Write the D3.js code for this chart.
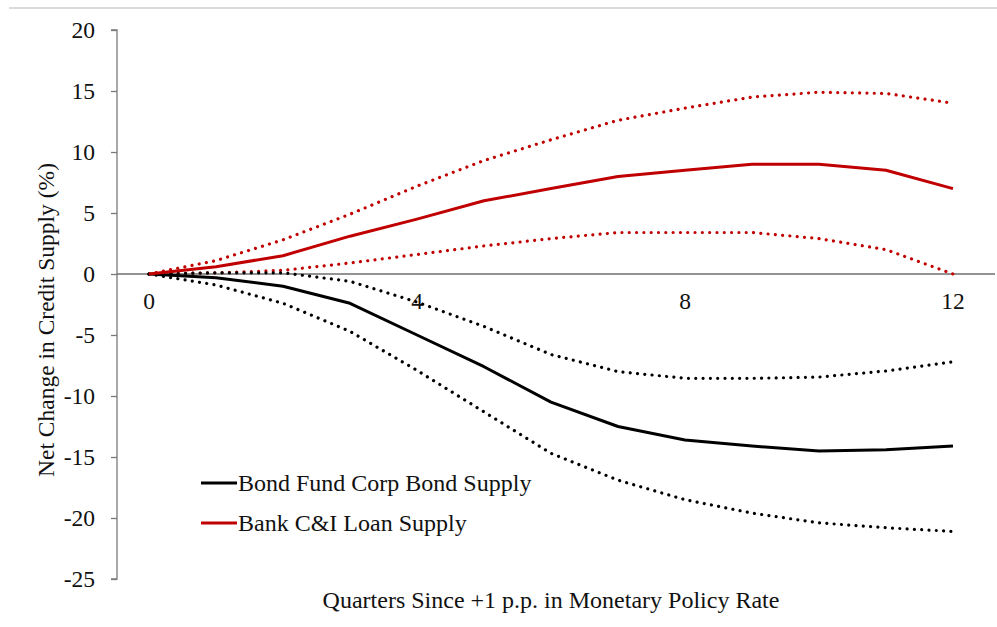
<!DOCTYPE html>
<html><head><meta charset="utf-8">
<script src="https://cdn.jsdelivr.net/npm/d3@7"></script>
<style>body{margin:0;background:#fff}svg{display:block}text{font-family:"Liberation Serif","Times New Roman",serif;fill:#111}</style>
</head><body>
<svg id="c" width="997" height="627"></svg>
<script>
const quarters = [0,1,2,3,4,5,6,7,8,9,10,11,12];
const bankMid   = [0,0.6,1.5,3.1,4.5,6.0,7.0,8.0,8.5,9.0,9.0,8.5,7.0];
const bankUpper = [0,1.1,2.8,4.9,7.2,9.3,11.0,12.6,13.6,14.5,14.9,14.8,14.0];
const bankLower = [0,0.1,0.3,0.9,1.6,2.3,2.9,3.4,3.4,3.4,2.9,2.0,0];
const bondMid   = [0,-0.3,-1.0,-2.4,-5.0,-7.6,-10.5,-12.5,-13.6,-14.1,-14.5,-14.4,-14.1];
const bondUpper = [0,0.1,0.1,-0.6,-2.3,-4.3,-6.6,-8.0,-8.55,-8.55,-8.45,-7.95,-7.2];
const bondLower = [0,-0.9,-2.4,-4.7,-7.9,-11.3,-14.7,-16.9,-18.5,-19.6,-20.4,-20.8,-21.1];
const yTicks = [20,15,10,5,0,-5,-10,-15,-20,-25];
const xTicks = [0,4,8,12];
const legendLabels = ["Bond Fund Corp Bond Supply","Bank C&I Loan Supply"];
const colors = {bond:"#000000", bank:"#C00000"};

const svg = d3.select("#c");
const x = d3.scaleLinear().domain([0,12]).range([149,953]);
const y = d3.scaleLinear().domain([-25,20]).range([579,30]);

// top separator line
svg.append("line").attr("x1",9).attr("x2",997).attr("y1",8).attr("y2",8)
  .attr("stroke","#cfcfcf").attr("stroke-width",1.5);

// y axis
const yAxis = d3.axisLeft(y).tickValues(yTicks).tickSize(6).tickPadding(16).tickFormat(d3.format("d"));
const ga = svg.append("g").attr("transform","translate(117,0)").call(yAxis);
ga.select(".domain").attr("stroke","#7a7a7a").attr("stroke-width",1.3).attr("d","M-6,"+y(20)+"H0V"+y(-25)+"H-6");
ga.selectAll(".tick line").attr("stroke","#7a7a7a").attr("stroke-width",1.3);
ga.selectAll(".tick text").style("font-family","'Liberation Serif',serif").style("font-size","23.5px").attr("fill","#111")
  .text(d => d<0 ? "-"+Math.abs(d) : d);

// zero line
svg.append("line").attr("x1",117).attr("x2",995).attr("y1",y(0)).attr("y2",y(0))
  .attr("stroke","#6e6e6e").attr("stroke-width",1.3);

// x tick labels
svg.selectAll(".xt").data(xTicks).join("text").attr("class","xt")
  .attr("x",d=>x(d)).attr("y",y(0)+35).attr("text-anchor","middle").style("font-size","23.5px").text(d=>d);

const line = d3.line().x((d,i)=>x(quarters[i])).y(d=>y(d));
function draw(data,color,dotted){
  const p = svg.append("path").datum(data).attr("d",line).attr("fill","none").attr("stroke",color);
  if(dotted){ p.attr("stroke-width",3.2).attr("stroke-dasharray","0.01 7.3").attr("stroke-linecap","round"); }
  else { p.attr("stroke-width",3).attr("stroke-linejoin","round"); }
}
draw(bankUpper,colors.bank,true);
draw(bankLower,colors.bank,true);
draw(bondUpper,colors.bond,true);
draw(bondLower,colors.bond,true);
draw(bondMid,colors.bond,false);
draw(bankMid,colors.bank,false);

// axis titles
svg.append("text").attr("x",551).attr("y",608).attr("text-anchor","middle").style("font-size","24px")
  .text("Quarters Since +1 p.p. in Monetary Policy Rate");
svg.append("text").attr("transform","translate(54,320) rotate(-90)").attr("text-anchor","middle").style("font-size","23.5px")
  .text("Net Change in Credit Supply (%)");

// legend
const leg = [[legendLabels[0],colors.bond,483],[legendLabels[1],colors.bank,523]];
leg.forEach(([t,c,yy])=>{
  svg.append("line").attr("x1",201).attr("x2",237).attr("y1",yy).attr("y2",yy).attr("stroke",c).attr("stroke-width",3);
  svg.append("text").attr("x",238).attr("y",yy+8).style("font-size","24px").text(t);
});
</script>
</body></html>
